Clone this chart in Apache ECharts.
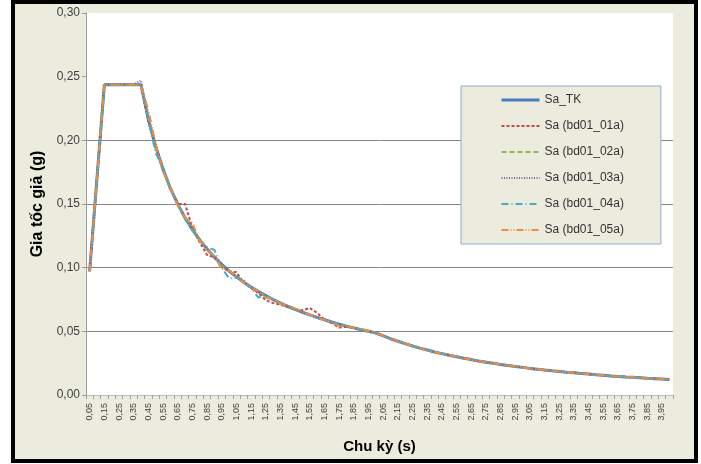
<!DOCTYPE html>
<html>
<head>
    <meta charset="utf-8">
    <title>Phổ gia tốc</title>
    <script src="https://cdn.jsdelivr.net/npm/echarts@6/dist/echarts.min.js"></script>
    <style>
        html, body { margin: 0; padding: 0; background: #fff; }
        #frame { position: absolute; left: 11px; top: 0; width: 687px; height: 463px;
                 box-sizing: border-box; border: 4px solid #000; background: #ebecde; }
        #main { position: absolute; left: 0; top: 0; width: 701px; height: 464px; }
    </style>
</head>
<body>
<div id="frame"></div>
<div id="main"></div>
<script type="text/javascript">
// chu kỳ T (s)
var periods = ['0,05','0,10','0,15','0,20','0,25','0,30','0,35','0,40','0,45','0,50',
    '0,55','0,60','0,65','0,70','0,75','0,80','0,85','0,90','0,95','1,00',
    '1,05','1,10','1,15','1,20','1,25','1,30','1,35','1,40','1,45','1,50',
    '1,55','1,60','1,65','1,70','1,75','1,80','1,85','1,90','1,95','2,00',
    '2,05','2,10','2,15','2,20','2,25','2,30','2,35','2,40','2,45','2,50',
    '2,55','2,60','2,65','2,70','2,75','2,80','2,85','2,90','2,95','3,00',
    '3,05','3,10','3,15','3,20','3,25','3,30','3,35','3,40','3,45','3,50',
    '3,55','3,60','3,65','3,70','3,75','3,80','3,85','3,90','3,95','4,00'];

var yTicks = [0, 0.05, 0.10, 0.15, 0.20, 0.25, 0.30];

// phổ thiết kế
var saTK = [0.0975,0.1705,0.2436,0.2436,0.2436,0.2436,0.2436,0.2436,
    0.2165,0.1949,0.1772,0.1624,0.1499,0.1392,0.1299,0.1218,0.1146,0.1083,0.1026,0.0974,
    0.0928,0.0886,0.0847,0.0812,0.0780,0.0750,0.0722,0.0696,0.0672,0.0650,
    0.0629,0.0609,0.0591,0.0573,0.0557,0.0541,0.0527,0.0513,0.0500,0.0487,
    0.0464,0.0442,0.0422,0.0403,0.0385,0.0368,0.0353,0.0338,0.0325,0.0312,
    0.0300,0.0288,0.0278,0.0267,0.0258,0.0249,0.0240,0.0232,0.0224,0.0217,
    0.0209,0.0203,0.0196,0.0190,0.0185,0.0179,0.0174,0.0169,0.0164,0.0159,
    0.0155,0.0150,0.0146,0.0142,0.0139,0.0135,0.0131,0.0128,0.0125,0.0122];

var sa01 = [0.0970,0.1710,0.2436,0.2436,0.2436,0.2436,0.2436,0.2436,
    0.2150,0.1960,0.1780,0.1620,0.1500,0.1500,0.1310,0.1200,0.1100,0.1080,0.1010,0.0970,
    0.0965,0.0880,0.0840,0.0800,0.0745,0.0722,0.0710,0.0690,0.0670,0.0665,
    0.0683,0.0645,0.0590,0.0565,0.0530,0.0535,0.0527,0.0515,0.0500,0.0490,
    0.0466,0.0440,0.0423,0.0401,0.0386,0.0367,0.0354,0.0339,0.0324,0.0313,
    0.0299,0.0289,0.0277,0.0268,0.0257,0.0250,0.0239,0.0233,0.0223,0.0218,
    0.0208,0.0204,0.0195,0.0191,0.0184,0.0180,0.0173,0.0170,0.0163,0.0160,
    0.0154,0.0151,0.0145,0.0143,0.0138,0.0136,0.0130,0.0129,0.0124,0.0123];

var sa02 = [0.0975,0.1700,0.2436,0.2436,0.2436,0.2436,0.2436,0.2436,
    0.2170,0.1940,0.1770,0.1630,0.1490,0.1400,0.1290,0.1225,0.1140,0.1090,0.1020,0.0978,
    0.0925,0.0890,0.0843,0.0815,0.0776,0.0753,0.0719,0.0699,0.0670,0.0652,
    0.0627,0.0611,0.0589,0.0575,0.0555,0.0543,0.0525,0.0515,0.0498,0.0489,
    0.0463,0.0443,0.0421,0.0404,0.0384,0.0369,0.0352,0.0339,0.0324,0.0313,
    0.0301,0.0287,0.0279,0.0266,0.0259,0.0248,0.0241,0.0231,0.0225,0.0216,
    0.0210,0.0202,0.0197,0.0189,0.0186,0.0178,0.0175,0.0168,0.0165,0.0158,
    0.0156,0.0149,0.0147,0.0141,0.0140,0.0134,0.0132,0.0127,0.0126,0.0121];

var sa03 = [0.0980,0.1715,0.2440,0.2440,0.2440,0.2440,0.2440,0.2470,
    0.2140,0.1960,0.1765,0.1620,0.1505,0.1385,0.1305,0.1215,0.1150,0.1080,0.1030,0.0970,
    0.0930,0.0884,0.0850,0.0810,0.0782,0.0748,0.0724,0.0694,0.0674,0.0648,
    0.0631,0.0607,0.0593,0.0571,0.0559,0.0539,0.0529,0.0511,0.0502,0.0485,
    0.0466,0.0440,0.0424,0.0401,0.0387,0.0366,0.0355,0.0336,0.0327,0.0310,
    0.0302,0.0286,0.0280,0.0265,0.0260,0.0247,0.0242,0.0230,0.0226,0.0215,
    0.0211,0.0201,0.0198,0.0188,0.0187,0.0177,0.0176,0.0167,0.0166,0.0157,
    0.0157,0.0148,0.0148,0.0140,0.0141,0.0133,0.0133,0.0126,0.0127,0.0120];

var sa04 = [0.0970,0.1700,0.2436,0.2436,0.2436,0.2436,0.2436,0.2436,
    0.2160,0.1900,0.1790,0.1610,0.1510,0.1380,0.1300,0.1210,0.1160,0.1140,0.1000,0.0915,
    0.0920,0.0905,0.0840,0.0765,0.0785,0.0750,0.0725,0.0690,0.0675,0.0648,
    0.0632,0.0606,0.0592,0.0574,0.0556,0.0542,0.0526,0.0514,0.0499,0.0488,
    0.0465,0.0441,0.0423,0.0402,0.0386,0.0367,0.0354,0.0337,0.0326,0.0311,
    0.0301,0.0287,0.0279,0.0266,0.0259,0.0248,0.0241,0.0231,0.0225,0.0216,
    0.0210,0.0202,0.0197,0.0189,0.0186,0.0178,0.0175,0.0168,0.0165,0.0158,
    0.0156,0.0149,0.0147,0.0141,0.0140,0.0134,0.0132,0.0127,0.0126,0.0121];

var sa05 = [0.0975,0.1710,0.2436,0.2436,0.2436,0.2436,0.2436,0.2436,
    0.2235,0.1970,0.1760,0.1630,0.1490,0.1390,0.1350,0.1210,0.1140,0.1090,0.0990,0.0975,
    0.0930,0.0880,0.0850,0.0810,0.0765,0.0752,0.0715,0.0705,0.0680,0.0655,
    0.0630,0.0605,0.0590,0.0572,0.0540,0.0540,0.0528,0.0520,0.0505,0.0487,
    0.0464,0.0443,0.0422,0.0403,0.0385,0.0368,0.0353,0.0338,0.0325,0.0312,
    0.0300,0.0288,0.0278,0.0267,0.0258,0.0249,0.0240,0.0232,0.0224,0.0217,
    0.0209,0.0203,0.0196,0.0190,0.0185,0.0179,0.0174,0.0169,0.0164,0.0159,
    0.0155,0.0150,0.0146,0.0142,0.0139,0.0135,0.0131,0.0128,0.0125,0.0122];

var seriesNames = ['Sa_TK', 'Sa (bd01_01a)', 'Sa (bd01_02a)', 'Sa (bd01_03a)', 'Sa (bd01_04a)', 'Sa (bd01_05a)'];
var seriesData = [saTK, sa01, sa02, sa03, sa04, sa05];
var seriesColors = ['#4a7ebb', '#be4b48', '#98b954', '#7d60a0', '#46aac5', '#f38b3c'];
var seriesDash = ['solid', [3, 2], [5, 3], [1, 1.5], [7, 3, 1, 3], [7, 2, 1, 2, 1, 2]];
var seriesWidth = [3, 2, 2, 2, 2, 2];

var FONT = '"Liberation Sans", Arial, sans-serif';

var dom = document.getElementById('main');
var myChart = echarts.init(dom, null, { renderer: 'canvas' });

var series = seriesNames.map(function (name, i) {
    return {
        name: name,
        type: 'line',
        data: seriesData[i],
        showSymbol: false,
        symbol: 'none',
        animation: false,
        color: seriesColors[i],
        lineStyle: { color: seriesColors[i], width: seriesWidth[i], type: seriesDash[i] },
        z: i === 0 ? 2 : 3
    };
});

var legendData = seriesNames.map(function (name, i) {
    return { name: name, lineStyle: { width: seriesWidth[i] } };
});

var option = {
    backgroundColor: 'transparent',
    animation: false,
    textStyle: { fontFamily: FONT },
    grid: {
        left: 86, top: 13, width: 587, height: 382,
        show: true, backgroundColor: '#ffffff', borderWidth: 0,
        containLabel: false
    },
    legend: {
        orient: 'vertical',
        left: 461, top: 86,
        padding: [8, 37, 8, 39],
        itemGap: 14,
        itemWidth: 38, itemHeight: 12,
        backgroundColor: '#ebecde',
        borderColor: '#8eaad6', borderWidth: 1,
        itemStyle: { opacity: 0 },
        textStyle: { fontFamily: FONT, fontSize: 12, color: '#333333' },
        data: legendData
    },
    xAxis: {
        type: 'category',
        data: periods,
        boundaryGap: true,
        name: 'Chu kỳ (s)',
        nameLocation: 'middle',
        nameGap: 44,
        nameTextStyle: { fontFamily: FONT, fontSize: 15, fontWeight: 'bold', color: '#000' },
        axisLine: { show: true, lineStyle: { color: '#bdbdbd', width: 1 } },
        axisTick: { show: true, interval: 0, length: 4, lineStyle: { color: '#a0a0a0' } },
        axisLabel: {
            interval: 1, rotate: 90, margin: 8,
            fontFamily: FONT, fontSize: 9, color: '#404040'
        },
        splitLine: { show: false }
    },
    yAxis: {
        type: 'value',
        min: yTicks[0], max: yTicks[yTicks.length - 1], interval: 0.05,
        name: 'Gia tốc giả (g)',
        nameLocation: 'middle',
        nameRotate: 90,
        nameGap: 34,
        nameTextStyle: { fontFamily: FONT, fontSize: 16, fontWeight: 'bold', color: '#000' },
        axisLine: { show: true, lineStyle: { color: '#9a9a9a', width: 1 } },
        axisTick: { show: true, length: 4, lineStyle: { color: '#9a9a9a' } },
        axisLabel: {
            margin: 6, fontFamily: FONT, fontSize: 12, color: '#404040',
            formatter: function (v) { return v.toFixed(2).replace('.', ','); }
        },
        splitLine: {
            show: true,
            lineStyle: {
                width: 1,
                color: ['rgba(0,0,0,0)', '#868686', '#868686', '#868686', '#868686', 'rgba(0,0,0,0)', 'rgba(0,0,0,0)']
            }
        }
    },
    series: series
};

myChart.setOption(option, true);
</script>
</body>
</html>
